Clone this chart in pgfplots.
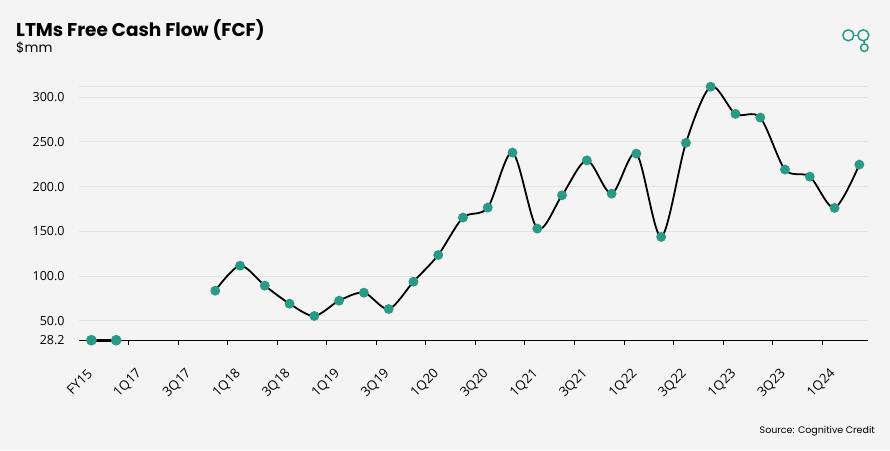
\documentclass[border=0pt]{standalone}
\usepackage{fontspec}
\setmainfont{Open Sans}
\newfontfamily\titlefont{Poppins}
\usepackage{pgfplots}
\pgfplotsset{compat=1.18}
\usetikzlibrary{backgrounds}
\definecolor{bgc}{HTML}{F4F4F4}
\definecolor{dotc}{HTML}{2A9A86}
\definecolor{gridc}{HTML}{E4E4E4}

\begin{document}
\begin{tikzpicture}[x=1pt,y=1pt]
\begin{axis}[
    name=ax,
    width=789pt, height=253.5pt, scale only axis,
    xmin=-0.5, xmax=31.35, ymin=28.2, ymax=311.7,
    clip=false,
    separate axis lines,
    axis x line*=bottom, axis y line*=left,
    y axis line style={draw=none},
    x axis line style={draw=black, line width=0.9pt},
    tick align=outside,
    xtick={0,2,...,30},
    xticklabels={FY15,1Q17,3Q17,1Q18,3Q18,1Q19,3Q19,1Q20,3Q20,1Q21,3Q21,1Q22,3Q22,1Q23,3Q23,1Q24},
    xtick style={draw=none},
    extra x ticks={1.5,3.5,...,29.5},
    extra x tick labels={},
    extra x tick style={xtick style={draw=black, line width=0.9pt}, major tick length=5pt},
    ytick={28.2,50,100,150,200,250,300},
    extra y ticks={311.7}, extra y tick labels={},
    ytick style={draw=none},
    ymajorgrids,
    major grid style={draw=gridc, line width=0.8pt},
    /pgf/number format/assume math mode=true,
    yticklabel={\pgfmathprintnumber[fixed, fixed zerofill, precision=1]{\tick}},
    yticklabel style={font=\fontsize{12.5}{15}\selectfont, anchor=east, inner sep=0pt, xshift=-10pt},
    xticklabel style={font=\fontsize{13.2}{15}\selectfont, rotate=45, anchor=east, inner sep=0pt, yshift=-18pt, xshift=-20pt},
]
\coordinate (O) at (axis cs:-0.5,28.2);
\addplot[black, line width=2.6pt, mark=*, mark size=4pt, mark options={draw=dotc, fill=dotc}] coordinates {
    (0,28.2) (1,28.2)
};
\addplot[black, line width=1.8pt, smooth, tension=0.5, mark=*, mark size=4pt, mark options={draw=dotc, fill=dotc}] coordinates {
    (5,83.6) (6,111.5) (7,89.2) (8,69.0) (9,55.3) (10,72.4) (11,81.3) (12,63.1) (13,93.6)
    (14,123.5) (15,165.3) (16,176.5) (17,238.0) (18,153.0) (19,190.3) (20,229.3) (21,192.1)
    (22,236.9) (23,143.7) (24,248.9) (25,311.7) (26,281.3) (27,277.2) (28,219.0) (29,211.1)
    (30,176.1) (31,224.6)
};
\end{axis}
% frame of the picture, placed from the axis corner (79,340.2 px)
\begin{scope}[shift={(O)}, xshift=-79pt, yshift=340.2pt]
  \begin{scope}[on background layer]
    \fill[bgc] (0,0) rectangle (890,-450);
  \end{scope}
  \node[anchor=base west, inner sep=0, font=\titlefont\bfseries\fontsize{18.5}{22}\selectfont] at (16,-37) {LTMs Free Cash Flow (FCF)};
  \node[anchor=base west, inner sep=0, font=\titlefont\fontsize{13.5}{16}\selectfont] at (16,-53) {\$mm};
  \node[anchor=base east, inner sep=0, font=\titlefont\fontsize{9.5}{11}\selectfont] at (875,-433) {Source: Cognitive Credit};
  \begin{scope}[draw=dotc, line width=1.5]
    \draw (848.3,-35.3) circle (5.5);
    \draw (863.3,-35.3) circle (5.5);
    \draw (853.8,-35.3) -- (857.8,-35.3);
    \draw (864.3,-47.7) circle (3.8);
    \draw (864,-40.8) -- (864.2,-43.9);
  \end{scope}
  \pgfresetboundingbox
  \useasboundingbox (0,0) rectangle (890,-450);
\end{scope}
\end{tikzpicture}
\end{document}
